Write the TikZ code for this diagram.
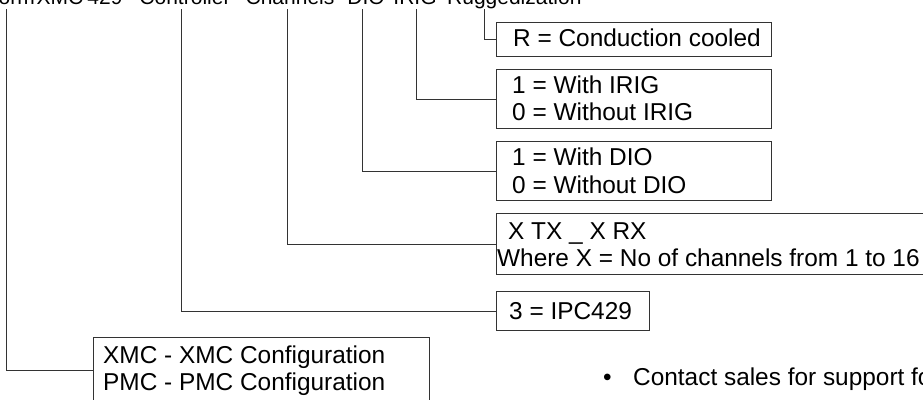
\documentclass[tikz,border=0pt]{standalone}
\usepackage{fontspec}
\setmainfont{Liberation Sans}
\begin{document}
\begin{tikzpicture}[x=1pt,y=-1pt,
  box/.style={draw=black!80, line width=0.9pt, inner sep=0pt, anchor=north west},
  conn/.style={draw=black!80, line width=0.9pt},
  txt/.style={anchor=base west, inner sep=0pt, font=\fontsize{24.4}{28}\selectfont},
  head/.style={anchor=base, inner sep=0pt, font=\fontsize{21}{24}\selectfont}]
\useasboundingbox (0,0) rectangle (923,399);
\clip (0,0) rectangle (923,399);

% header words (only their lower part is visible)
\node[head, anchor=base east] (h1) at (35,4) {Platform};
\node[head] (h2) at (60,4) {XMC};
\node[head] (h3) at (105,4) {429};
\node[head] (h4) at (185,4) {Controller};
\node[head] (h5) at (290,4) {Channels};
\node[head] (h6) at (366,4) {DIO};
\node[head] (h7) at (415,4) {IRIG};
\node[head, anchor=base west] (h8) at (447,4) {Ruggedization};

% boxes
\node[box, minimum width=275pt, minimum height=34pt] (rbox) at (496,22) {};
\node[box, minimum width=275pt, minimum height=59pt] (irig) at (496,69) {};
\node[box, minimum width=275pt, minimum height=59pt] (dio) at (496,141) {};
\node[box, minimum width=500pt, minimum height=61pt] (chan) at (496,213) {};
\node[box, minimum width=153pt, minimum height=39pt] (ctrl) at (496,291) {};
\node[box, minimum width=336pt, minimum height=90pt] (conf) at (93,337) {};

% texts
\node[txt] (t1) at (513,46.5) {R = Conduction cooled};
\node[txt] (t2) at (512,93) {1 = With IRIG};
\node[txt] (t3) at (512,120.5) {0 = Without IRIG};
\node[txt] (t4) at (512,165.7) {1 = With DIO};
\node[txt] (t5) at (512,193.3) {0 = Without DIO};
\node[txt] (t6) at (508,239) {X TX \_ X RX};
\node[txt] (t7) at (497,266) {Where X = No of channels from 1 to 16};
\node[txt] (t8) at (509,319) {3 = IPC429};
\node[txt] (t9) at (103,363) {XMC - XMC Configuration};
\node[txt] (t10) at (103,390) {PMC - PMC Configuration};
\node[txt] (bul) at (603,385) {•};
\node[txt] (t11) at (633,385) {Contact sales for support for};

% connectors
\coordinate (c1) at (6,9);
\coordinate (c2) at (181,9);
\coordinate (c3) at (287,9);
\coordinate (c4) at (362,9);
\coordinate (c5) at (416,9);
\coordinate (c6) at (484,9);
\draw[conn] (c6) |- (rbox.west);
\draw[conn] (c5) |- (irig.west);
\draw[conn] (c4) |- (dio.west);
\draw[conn] (c3) |- (chan.west);
\draw[conn] (c2) |- (ctrl.west);
\draw[conn] (c1) |- (conf.north west |- 0,370);
\end{tikzpicture}
\end{document}
